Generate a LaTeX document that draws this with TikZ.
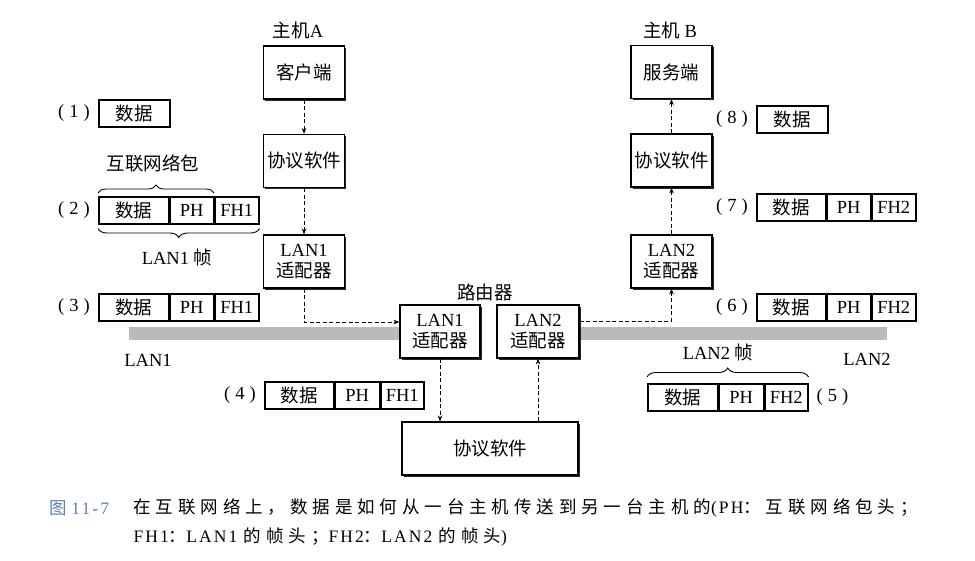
\documentclass[tikz,border=0pt]{standalone}
\usepackage{fontspec}
\setmainfont{Liberation Serif}
\newfontfamily\cjk{Noto Sans CJK SC}
\newfontfamily\cjkcap[LetterSpace=28]{Noto Sans CJK SC}
\newfontfamily\latcap[LetterSpace=12]{Liberation Serif}
\usetikzlibrary{arrows.meta,positioning,shadows,decorations.pathreplacing}

\definecolor{capblue}{RGB}{95,125,185}
\newcommand\stepno[1]{(\hspace{5pt}#1\hspace{5pt})}

\begin{document}
\begin{tikzpicture}[x=1pt, y=-1pt, font=\fontsize{18.5}{21}\selectfont,
    hostbox/.style={draw, line width=1.1pt, fill=white, minimum width=81pt, minimum height=53pt,
        inner sep=2pt, align=center,
        drop shadow={shadow xshift=1.6pt, shadow yshift=-1.6pt, opacity=0.85, fill=black}},
    pktfield/.style={draw, line width=1.5pt, minimum height=27pt, inner sep=0pt},
    packlabel/.style={inner sep=0pt},
    conn/.style={line width=0.9pt, dash pattern=on 4pt off 2.5pt, -{Stealth[length=6pt, width=4.5pt]}},
    lanbar/.style={fill=black!27, draw=none},
    brc/.style={decorate, decoration={brace, amplitude=8pt}, line width=0.9pt},
    capfont/.style={font=\fontsize{17.5}{20}\selectfont}]

    \useasboundingbox (0,0) rectangle (975,560);

    % LAN segments
    \fill[lanbar] (129,327) rectangle (400,340);
    \fill[lanbar] (579,327) rectangle (887,340);
    \node (lan1) at (148,360) {LAN1};
    \node (lan2) at (867,359) {LAN2};

    % host A
    \node (hostA) at (298,30) {{\cjk 主机}A};
    \node[hostbox] (cliA) at (304,72.5) {\cjk 客户端};
    \node[hostbox] (protA) at (304,161) {\cjk 协议软件};
    \node[hostbox] (adpA) at (304,261.5) {LAN1\\{\cjk 适配器}};

    % host B
    \node (hostB) at (670,30) {{\cjk 主机} B};
    \node[hostbox] (srvB) at (671.5,72) {\cjk 服务端};
    \node[hostbox] (protB) at (671.5,160.5) {\cjk 协议软件};
    \node[hostbox] (adpB) at (671.5,261.5) {LAN2\\{\cjk 适配器}};

    % router
    \node (rtr) at (485,292) {\cjk 路由器};
    \node[hostbox, minimum width=80pt] (radp1) at (440,331.5) {LAN1\\{\cjk 适配器}};
    \node[hostbox, minimum width=82pt] (radp2) at (538,331.5) {LAN2\\{\cjk 适配器}};
    \node[hostbox, minimum width=176pt] (rprot) at (490,448.5) {\cjk 协议软件};

    \coordinate (lan1y) at (0,322);
    \coordinate (lan2y) at (0,321);

    \draw[conn] (cliA) -- (protA);
    \draw[conn] (protA) -- (adpA);
    \draw[conn] (adpA.south) |- (radp1.west |- lan1y);
    \draw[conn] (radp1) -- (radp1.south |- rprot.north);
    \draw[conn] (radp2.south |- rprot.north) -- (radp2);
    \draw[conn] (radp2.east |- lan2y) -| (adpB.south);
    \draw[conn] (adpB) -- (protB);
    \draw[conn] (protB) -- (srvB);

    % (1)
    \node[pktfield, minimum width=71pt, anchor=north west] (d1) at (98,99) {\cjk 数据};
    \node[packlabel, left=8pt of d1] (n1) {\stepno{1}};

    % (2)
    \node[pktfield, minimum width=70pt, anchor=north west] (d2) at (98,196) {\cjk 数据};
    \node[pktfield, minimum width=43pt, right=0pt of d2] (h2) {PH};
    \node[pktfield, minimum width=44pt, right=0pt of h2] (f2) {FH1};
    \node[packlabel, left=8pt of d2] (n2) {\stepno{2}};
    \draw[brc] ([yshift=3pt]d2.north west) -- ([yshift=3pt]h2.north east);
    \draw[brc, decoration={amplitude=9pt}] ([yshift=-4pt]f2.south east) -- ([yshift=-4pt]d2.south west);
    \node (ipkt) at (153,163) {\cjk 互联网络包};
    \node (frm1) at (177,257) {LAN1 {\cjk 帧}};

    % (3)
    \node[pktfield, minimum width=70pt, anchor=north west] (d3) at (98,293) {\cjk 数据};
    \node[pktfield, minimum width=43pt, right=0pt of d3] (h3) {PH};
    \node[pktfield, minimum width=44pt, right=0pt of h3] (f3) {FH1};
    \node[packlabel, left=8pt of d3] (n3) {\stepno{3}};

    % (4)
    \node[pktfield, minimum width=69pt, anchor=north west] (d4) at (264,381) {\cjk 数据};
    \node[pktfield, minimum width=44pt, right=0pt of d4] (h4) {PH};
    \node[pktfield, minimum width=43pt, right=0pt of h4] (f4) {FH1};
    \node[packlabel, left=8pt of d4] (n4) {\stepno{4}};

    % (5)
    \node[pktfield, minimum width=70pt, anchor=north west] (d5) at (647,383) {\cjk 数据};
    \node[pktfield, minimum width=44pt, right=0pt of d5] (h5) {PH};
    \node[pktfield, minimum width=43pt, right=0pt of h5] (f5) {FH2};
    \node[packlabel, right=8pt of f5] (n5) {\stepno{5}};
    \draw[brc, decoration={amplitude=9pt}] ([yshift=6pt]d5.north west) -- ([yshift=6pt]f5.north east);
    \node (frm2) at (718,352) {LAN2 {\cjk 帧}};

    % (6)
    \node[pktfield, minimum width=69pt, anchor=north west] (d6) at (756,293) {\cjk 数据};
    \node[pktfield, minimum width=43pt, right=0pt of d6] (h6) {PH};
    \node[pktfield, minimum width=44pt, right=0pt of h6] (f6) {FH2};
    \node[packlabel, left=8pt of d6] (n6) {\stepno{6}};

    % (7)
    \node[pktfield, minimum width=69pt, anchor=north west] (d7) at (756,193) {\cjk 数据};
    \node[pktfield, minimum width=43pt, right=0pt of d7] (h7) {PH};
    \node[pktfield, minimum width=44pt, right=0pt of h7] (f7) {FH2};
    \node[packlabel, left=8pt of d7] (n7) {\stepno{7}};

    % (8)
    \node[pktfield, minimum width=71pt, anchor=north west] (d8) at (756,105) {\cjk 数据};
    \node[packlabel, left=8pt of d8] (n8) {\stepno{8}};

    % caption
    \node[anchor=west, text=capblue, capfont] (fig) at (46,508) {{\cjk 图} \latcap 11-7};
    \node[anchor=west, capfont] (cap1) at (130,508)
        {{\cjkcap 在互联网络上，数据是如何从一台主机传送到另一台主机的}{\latcap (PH}{\cjkcap ：互联网络包头；}};
    \node[anchor=west, capfont] (cap2) at (130,537)
        {\latcap FH1{\cjkcap ：}LAN1 {\cjkcap 的帧头；}FH2{\cjkcap ：}LAN2 {\cjkcap 的帧头}) };

\end{tikzpicture}
\end{document}
